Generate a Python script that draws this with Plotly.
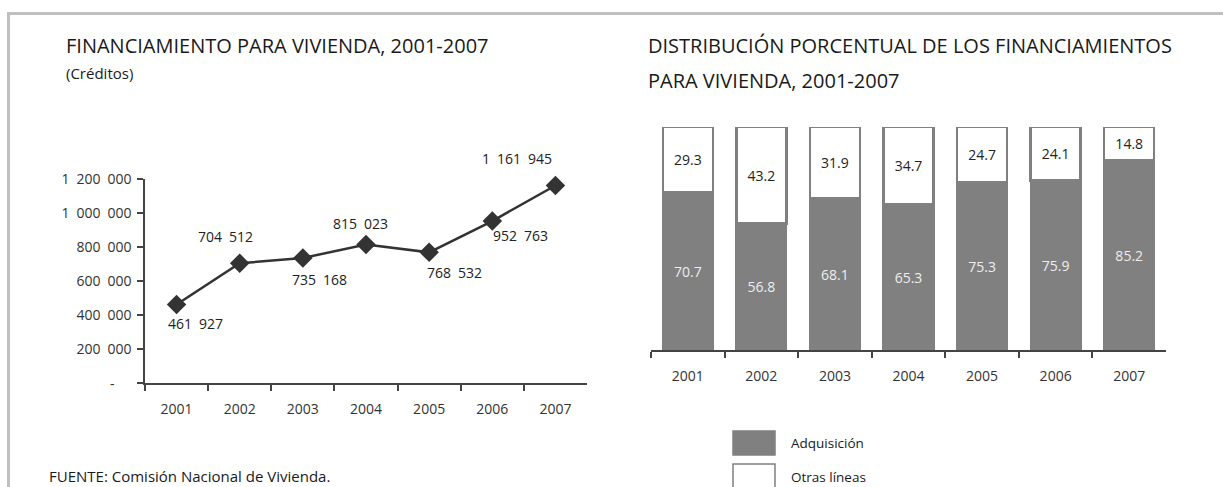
import plotly.graph_objects as go

# ---------------- data ----------------
years = ["2001", "2002", "2003", "2004", "2005", "2006", "2007"]
creditos = [461927, 704512, 735168, 815023, 768532, 952763, 1161945]
adquisicion = [70.7, 56.8, 68.1, 65.3, 75.3, 75.9, 85.2]
otras_lineas = [29.3, 43.2, 31.9, 34.7, 24.7, 24.1, 14.8]
y_tick_values = [0, 200000, 400000, 600000, 800000, 1000000, 1200000]

# ---------------- styling helpers ----------------
W, H = 1223, 487
FONT = "Open Sans"
SP = "\u2002"
def px(x):
    return x / W
def py(y):
    return 1 - y / H

def fmt(v):
    return f"{v:,}".replace(",", SP)

# label offsets (pixels) for the line chart data labels
label_dx = [19, -14, 17, -6, 25, 28, -38]
label_dy = [-19, 27, -21, 21, -20, -14, 27]

fig = go.Figure()

fig.add_trace(go.Scatter(
    x=years, y=creditos, mode="lines+markers",
    line=dict(color="#333333", width=2.5),
    marker=dict(symbol="diamond", size=15, color="#333333"),
    xaxis="x", yaxis="y", cliponaxis=False, showlegend=False,
))

fig.add_trace(go.Bar(
    x=years, y=adquisicion, name="Adquisición",
    marker=dict(color="#808080", line=dict(color="#808080", width=2)),
    text=[f"{v:.1f}" for v in adquisicion], textposition="inside",
    insidetextanchor="middle", constraintext="none", textangle=0,
    textfont=dict(color="#eeeeee", size=14, family=FONT),
    xaxis="x2", yaxis="y2", showlegend=False,
))
fig.add_trace(go.Bar(
    x=years, y=otras_lineas, name="Otras líneas",
    marker=dict(color="#ffffff", line=dict(color="#808080", width=2.5)),
    text=[f"{v:.1f}" for v in otras_lineas], textposition="inside",
    insidetextanchor="middle", constraintext="none", textangle=0,
    textfont=dict(color="#222222", size=14, family=FONT),
    xaxis="x2", yaxis="y2", showlegend=False,
))

annotations = []
for i, (v, dx, dy) in enumerate(zip(creditos, label_dx, label_dy)):
    annotations.append(dict(
        x=i, y=v, xref="x", yref="y", text=fmt(v), showarrow=False,
        xshift=dx, yshift=dy, font=dict(size=14, color="#222222", family=FONT),
    ))
# zero label shown as dash
annotations.append(dict(x=px(108), y=0, xref="paper", yref="y", text="-",
                        showarrow=False, font=dict(size=14, color="#333333", family=FONT)))

def text_ann(x, y, t, size, color="#1a1a1a"):
    return dict(x=px(x), y=py(y), xref="paper", yref="paper", text=t,
                showarrow=False, xanchor="left", yanchor="middle", borderpad=0,
                font=dict(size=size, color=color, family=FONT))

annotations += [
    text_ann(65, 46, "FINANCIAMIENTO PARA VIVIENDA, 2001-2007", 20),
    text_ann(65, 73, "(Créditos)", 15),
    text_ann(647, 46, "DISTRIBUCIÓN PORCENTUAL DE LOS FINANCIAMIENTOS", 20),
    text_ann(647, 80, "PARA VIVIENDA, 2001-2007", 20),
    text_ann(48, 476, "FUENTE: Comisión Nacional de Vivienda.", 15),
    text_ann(790, 443, "Adquisición", 13.5),
    text_ann(790, 477, "Otras líneas", 13.5),
]

shapes = [
    dict(type="line", xref="paper", yref="paper", x0=px(7), x1=1, y0=py(13.5), y1=py(13.5),
         line=dict(color="#c0c0c0", width=3)),
    dict(type="line", xref="paper", yref="paper", x0=px(8.5), x1=px(8.5), y0=py(12), y1=0,
         line=dict(color="#c0c0c0", width=3)),
    dict(type="rect", xref="paper", yref="paper", x0=px(733), x1=px(775), y0=py(455), y1=py(431),
         fillcolor="#808080", line=dict(color="#808080", width=1.5)),
    dict(type="rect", xref="paper", yref="paper", x0=px(733), x1=px(775), y0=py(490), y1=py(464),
         fillcolor="#ffffff", line=dict(color="#808080", width=1.5)),
]

axis_common = dict(showline=True, linecolor="#444444", linewidth=1.5, ticks="outside",
                   ticklen=6, tickcolor="#444444", tickwidth=1.5, showgrid=False,
                   zeroline=False, automargin=False,
                   tickfont=dict(size=14, color="#333333", family=FONT))

fig.update_layout(
    width=W, height=H,
    margin=dict(l=0, r=0, t=0, b=0, pad=0, autoexpand=False),
    paper_bgcolor="white", plot_bgcolor="white",
    barmode="stack", bargap=0.32,
    showlegend=False,
    xaxis=dict(domain=[px(145), px(587)], anchor="y", type="category",
               range=[-0.5, len(years) - 0.5], tickangle=0, ticklabelstandoff=12,
               tickson="boundaries", **axis_common),
    yaxis=dict(domain=[py(383), py(179)], anchor="x", range=[0, 1200000],
               tickvals=y_tick_values, ticklabelstandoff=3,
               ticktext=[""] + [fmt(v) for v in y_tick_values[1:]],
               **axis_common),
    xaxis2=dict(domain=[px(651), px(1166)], anchor="y2", type="category",
                range=[-0.5, len(years) - 0.5], tickangle=0, ticklabelstandoff=12,
                tickson="boundaries", **axis_common),
    yaxis2=dict(domain=[py(350), py(127)], anchor="x2", range=[0, 100], visible=False),
    annotations=annotations,
    shapes=shapes,
)

fig.write_html(
    "out.html",
    config={"displayModeBar": False},
    post_script="document.body.style.margin='0';document.body.style.padding='0';",
)
